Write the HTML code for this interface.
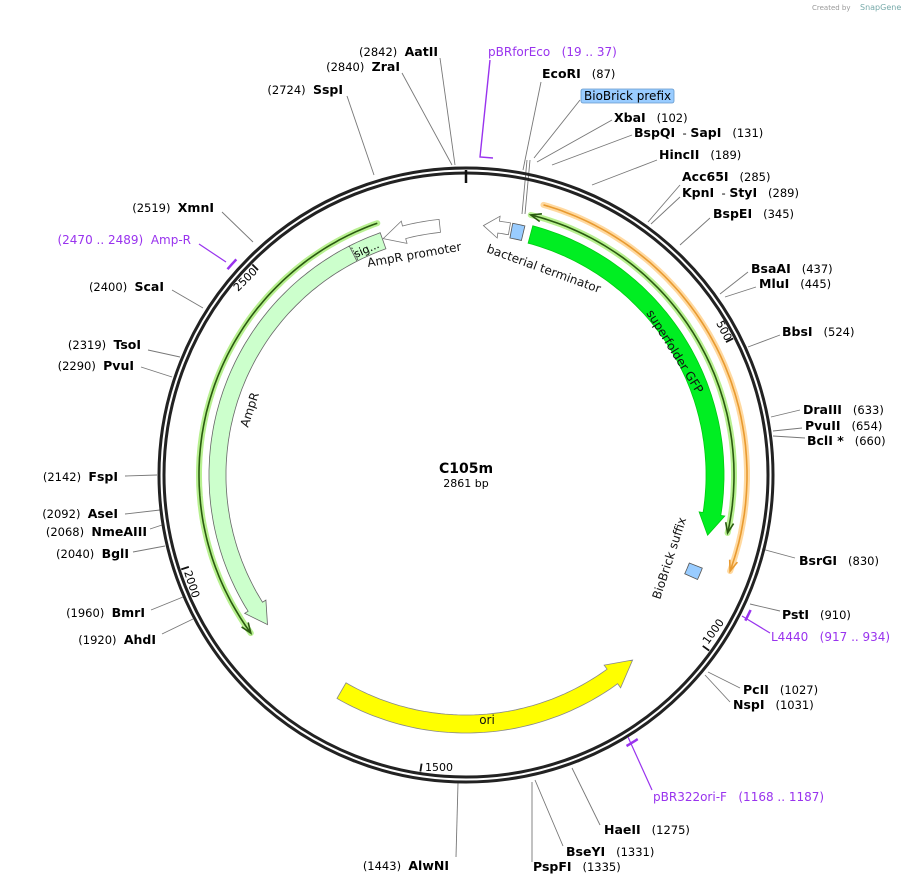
<!DOCTYPE html>
<html><head><meta charset="utf-8">
<style>
html,body{margin:0;padding:0;background:#fff;}
svg{display:block;font-family:"DejaVu Sans","Liberation Sans",sans-serif;}
text,tspan{white-space:pre;}
.n{font-weight:bold;font-size:12.5px;fill:#000;}
.p{font-size:11.5px;fill:#000;}
.pu{font-size:12px;fill:#9933ee;}
.f{font-size:12px;fill:#111;}
</style></head>
<body>
<svg id="s" width="910" height="885" viewBox="0 0 910 885" xmlns="http://www.w3.org/2000/svg" xml:space="preserve">
<text x="812" y="10" font-size="7" fill="#999">Created by</text>
<text x="860" y="10" font-size="8" fill="#7aa">SnapGene</text>
<g id="g"></g>
<text x="466" y="473" text-anchor="middle" font-weight="bold" font-size="14">C105m</text>
<text x="466" y="487" text-anchor="middle" font-size="11">2861 bp</text>

<g text-anchor="end">
<text x="438" y="56"><tspan class="p">(2842)  </tspan><tspan class="n">AatII</tspan></text>
<text x="400" y="71"><tspan class="p">(2840)  </tspan><tspan class="n">ZraI</tspan></text>
<text x="343" y="94"><tspan class="p">(2724)  </tspan><tspan class="n">SspI</tspan></text>
<text x="214" y="212"><tspan class="p">(2519)  </tspan><tspan class="n">XmnI</tspan></text>
<text x="191" y="244" class="pu">(2470 .. 2489)  Amp-R</text>
<text x="164" y="291"><tspan class="p">(2400)  </tspan><tspan class="n">ScaI</tspan></text>
<text x="141" y="349"><tspan class="p">(2319)  </tspan><tspan class="n">TsoI</tspan></text>
<text x="134" y="370"><tspan class="p">(2290)  </tspan><tspan class="n">PvuI</tspan></text>
<text x="118" y="481"><tspan class="p">(2142)  </tspan><tspan class="n">FspI</tspan></text>
<text x="118" y="518"><tspan class="p">(2092)  </tspan><tspan class="n">AseI</tspan></text>
<text x="147" y="536"><tspan class="p">(2068)  </tspan><tspan class="n">NmeAIII</tspan></text>
<text x="129" y="558"><tspan class="p">(2040)  </tspan><tspan class="n">BglI</tspan></text>
<text x="145" y="617"><tspan class="p">(1960)  </tspan><tspan class="n">BmrI</tspan></text>
<text x="156" y="644"><tspan class="p">(1920)  </tspan><tspan class="n">AhdI</tspan></text>
<text x="449" y="870"><tspan class="p">(1443)  </tspan><tspan class="n">AlwNI</tspan></text>
</g>
<g>
<text x="488" y="56" class="pu">pBRforEco   (19 .. 37)</text>
<text x="542" y="78"><tspan class="n">EcoRI</tspan><tspan class="p">   (87)</tspan></text>
<rect x="581" y="89" width="93" height="14" rx="2" fill="#99ccff" stroke="#6699cc" stroke-width="0.8"/>
<text x="584" y="100" font-size="12">BioBrick prefix</text>
<text x="614" y="122"><tspan class="n">XbaI</tspan><tspan class="p">   (102)</tspan></text>
<text x="634" y="137"><tspan class="n">BspQI</tspan><tspan class="p">  - </tspan><tspan class="n">SapI</tspan><tspan class="p">   (131)</tspan></text>
<text x="659" y="159"><tspan class="n">HincII</tspan><tspan class="p">   (189)</tspan></text>
<text x="682" y="181"><tspan class="n">Acc65I</tspan><tspan class="p">   (285)</tspan></text>
<text x="682" y="197"><tspan class="n">KpnI</tspan><tspan class="p">  - </tspan><tspan class="n">StyI</tspan><tspan class="p">   (289)</tspan></text>
<text x="713" y="218"><tspan class="n">BspEI</tspan><tspan class="p">   (345)</tspan></text>
<text x="751" y="273"><tspan class="n">BsaAI</tspan><tspan class="p">   (437)</tspan></text>
<text x="759" y="288"><tspan class="n">MluI</tspan><tspan class="p">   (445)</tspan></text>
<text x="782" y="336"><tspan class="n">BbsI</tspan><tspan class="p">   (524)</tspan></text>
<text x="803" y="414"><tspan class="n">DraIII</tspan><tspan class="p">   (633)</tspan></text>
<text x="805" y="430"><tspan class="n">PvuII</tspan><tspan class="p">   (654)</tspan></text>
<text x="807" y="445"><tspan class="n">BclI *</tspan><tspan class="p">   (660)</tspan></text>
<text x="799" y="565"><tspan class="n">BsrGI</tspan><tspan class="p">   (830)</tspan></text>
<text x="782" y="619"><tspan class="n">PstI</tspan><tspan class="p">   (910)</tspan></text>
<text x="771" y="641" class="pu">L4440   (917 .. 934)</text>
<text x="743" y="694"><tspan class="n">PcII</tspan><tspan class="p">   (1027)</tspan></text>
<text x="733" y="709"><tspan class="n">NspI</tspan><tspan class="p">   (1031)</tspan></text>
<text x="653" y="801" class="pu">pBR322ori-F   (1168 .. 1187)</text>
<text x="604" y="834"><tspan class="n">HaeII</tspan><tspan class="p">   (1275)</tspan></text>
<text x="566" y="856"><tspan class="n">BseYI</tspan><tspan class="p">   (1331)</tspan></text>
<text x="533" y="871"><tspan class="n">PspFI</tspan><tspan class="p">   (1335)</tspan></text>
</g>

<text class="f" transform="translate(368,267) rotate(-10)">AmpR promoter</text>
<text class="f" transform="translate(486,252) rotate(20)">bacterial terminator</text>
<text class="f" transform="translate(646,313) rotate(58)">superfolder GFP</text>
<text class="f" transform="translate(248,428) rotate(-72)">AmpR</text>
<text class="f" x="487" y="724" text-anchor="middle">ori</text>
<text class="f" transform="translate(660,600) rotate(-72)">BioBrick suffix</text>
<text font-size="11" transform="translate(356,258) rotate(-24)">sig...</text>
<text font-size="11" transform="translate(716,323) rotate(63)">500</text>
<text font-size="11" transform="translate(708,645) rotate(-54)">1000</text>
<text font-size="11" x="425" y="771">1500</text>
<text font-size="11" transform="translate(184,572) rotate(72)">2000</text>
<text font-size="11" transform="translate(238,292) rotate(-45)">2500</text>
</svg>
<script>
var cx=466,cy=475,NS="http://www.w3.org/2000/svg",G=document.getElementById("g");
function P(a,r){a*=Math.PI/180;return [cx+r*Math.sin(a),cy-r*Math.cos(a)];}
function add(tag,at){var e=document.createElementNS(NS,tag);for(var k in at)e.setAttribute(k,at[k]);G.appendChild(e);return e;}
function pts(a){return a.map(function(p){return p[0].toFixed(1)+","+p[1].toFixed(1)}).join(" ");}
function arcPts(a1,a2,r){var o=[],N=Math.max(4,Math.ceil(Math.abs(a2-a1)));for(var i=0;i<=N;i++)o.push(P(a1+(a2-a1)*i/N,r));return o;}
function band(a1,a2,r1,r2,fill,stroke){var p=arcPts(a1,a2,r2).concat(arcPts(a2,a1,r1));add("polygon",{points:pts(p),fill:fill,stroke:stroke,"stroke-width":0.8});}
function arrowBand(from,to,r1,r2,h,fl,fill,stroke){var s=Math.sign(to-from),b=to-s*h;var p=arcPts(from,b,r2);p.push(P(b,r2+fl));p.push(P(to,(r1+r2)/2));p.push(P(b,r1-fl));p=p.concat(arcPts(b,from,r1));add("polygon",{points:pts(p),fill:fill,stroke:stroke,"stroke-width":0.8});}
function thin(a1,a2,r,col,glow,heads){var p=arcPts(a1,a2,r);add("polyline",{points:pts(p),fill:"none",stroke:glow,"stroke-width":6,"stroke-linecap":"round"});add("polyline",{points:pts(p),fill:"none",stroke:col,"stroke-width":1.6});
 heads.forEach(function(t){var tip=t?a2:a1,o=t?a1:a2,s=Math.sign(tip-o),b=tip-s*2.2;add("polyline",{points:pts([P(b,r+4),P(tip,r),P(b,r-4)]),fill:"none",stroke:col,"stroke-width":1.6});});}
function line(x1,y1,x2,y2,c,w){add("line",{x1:x1,y1:y1,x2:x2,y2:y2,stroke:c||"#777","stroke-width":w||0.9});}
[[440,58,455,165],[402,73,452,165],[347,96,374,175],[222,212,253,242],[172,290,203,308],[148,350,180,357],[141,367,172,377],[125,476,157,475],[125,514,160,510],[150,529,162,525],[133,552,165,546],[151,610,183,597],[162,634,193,619],[456,857,458,783],
 [541,82,523,170],[580,100,534,158],[612,120,537,162],[632,135,552,165],[657,160,592,185],[680,185,648,222],[680,197,651,224],[710,218,680,245],[748,272,720,294],[756,287,725,297],[780,335,748,347],[800,410,771,417],[802,428,773,431],[805,438,773,436],[795,558,762,549],[780,611,750,604],[740,688,708,672],[730,702,705,675],[600,825,572,768],[563,846,535,780],[532,862,532,782],
 [527,160,522,214],[530,160,525,214]].forEach(function(l){line(l[0],l[1],l[2],l[3]);});
add("circle",{cx:cx,cy:cy,r:307,fill:"none",stroke:"#222","stroke-width":3});
add("circle",{cx:cx,cy:cy,r:302,fill:"none",stroke:"#222","stroke-width":3});
line(466,170,466,183,"#111",2.5);
[500,1000,1500,2000,2500].forEach(function(b){var a=b/2861*360,p1=P(a,300),p2=P(a,292);line(p1[0],p1[1],p2[0],p2[1],"#111",1.8);});
thin(16,110,281,"#e89a30","#ffd9a0",[1]);
thin(14,102.5,268,"#2a5a10","#b8f090",[0,1]);
thin(340.6,233.7,267,"#2a5a10","#b8f090",[1]);
arrowBand(15,104,240,258,5,4,"#00ee22","#00cc11");
arrowBand(333,233,240,257,5,4,"#ccffcc","#666");
band(333,340.5,240,257,"#ccffcc","#666");
add("polyline",{points:pts([P(333.3,241),P(333.3,256)]),stroke:"#333","stroke-width":1,"stroke-dasharray":"1.5,1.5",fill:"none"});
arrowBand(354,340.7,244,257,5,5,"#fff","#777");
arrowBand(10,4,244,256,3.5,5,"#fff","#777");
band(10.5,13.3,241,256,"#99ccff","#555");
band(111.5,114.3,240,254,"#99ccff","#555");
arrowBand(210,138,240,258,6,5,"#ffff00","#888");
function primer(a1,a2){var p=arcPts(a1,a2,315);add("polyline",{points:pts(p),fill:"none",stroke:"#9933ee","stroke-width":2.5});}
primer(2470/2861*360,2489/2861*360);primer(917/2861*360,934/2861*360);primer(1168/2861*360,1187/2861*360);
add("polyline",{points:"490,60 480,157 493,158",fill:"none",stroke:"#9933ee","stroke-width":1.4});
line(199,244,226,262,"#9933ee",1.2);line(770,633,742,616,"#9933ee",1.2);line(652,790,628,737,"#9933ee",1.2);
</script>
</body></html>
